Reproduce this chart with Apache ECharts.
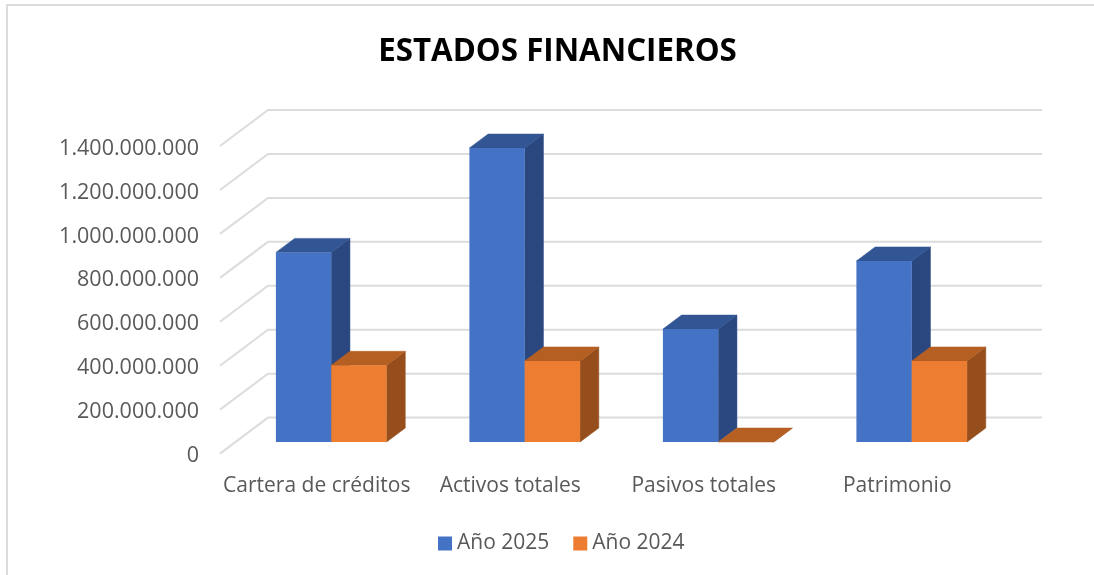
<!DOCTYPE html>
<html>
<head>
<meta charset="utf-8">
<style>html,body{margin:0;padding:0;background:#fff}#c{width:1094px;height:575px}</style>
<script src="https://cdn.jsdelivr.net/npm/echarts@6/dist/echarts.min.js"></script>
</head>
<body>
<div id="c"></div>
<script>
const categories = ['Cartera de créditos', 'Activos totales', 'Pasivos totales', 'Patrimonio'];
const year2025 = [863000000, 1338000000, 514000000, 824000000];
const year2024 = [349000000, 369000000, 0, 369000000];
const yTicks = [0, 200000000, 400000000, 600000000, 800000000, 1000000000, 1200000000, 1400000000];
const FONT = '"Open Sans"';
const WALL = [48, 36], FRONT = [14.5, 11.6], DEPTH = [18.7, 14], BAR_FRAC = 0.286;

function poly(points, fill) {
  return { type: 'polygon', shape: { points }, style: { fill, stroke: fill, lineWidth: 0.5 } };
}
function barRenderer(side, colors) {
  return function (params, api) {
    const band = api.size([1, 0])[0];
    const w = band * BAR_FRAC;
    const t = api.coord([api.value(0), api.value(1)]);
    const b = api.coord([api.value(0), 0]);
    const x0 = t[0] + FRONT[0] + (side < 0 ? -w : 0), x1 = x0 + w;
    const yT = t[1] - FRONT[1], yB = b[1] - FRONT[1];
    const dx = DEPTH[0], dy = DEPTH[1];
    return { type: 'group', children: [
      poly([[x1, yT], [x1 + dx, yT - dy], [x1 + dx, yB - dy], [x1, yB]], colors.side),
      poly([[x0, yT], [x0 + dx, yT - dy], [x1 + dx, yT - dy], [x1, yT]], colors.top),
      { type: 'rect', shape: { x: x0, y: yT, width: w, height: yB - yT }, style: { fill: colors.front } }
    ] };
  };
}
function wallRenderer(params, api) {
  const band = api.size([1, 0])[0];
  const p = api.coord([0, api.value(1)]);
  const x = p[0] - band / 2, y = p[1];
  return { type: 'polyline', shape: { points: [[x, y], [x + WALL[0], y - WALL[1]], [x + WALL[0] + band * categories.length, y - WALL[1]]] },
    style: { fill: 'none', stroke: '#dcdcdc', lineWidth: 2 }, z2: 0 };
}
function fmt(v) { return String(v).replace(/\B(?=(\d{3})+(?!\d))/g, '.'); }

const chart = echarts.init(document.getElementById('c'), null, { renderer: 'canvas' });
chart.setOption({
  animation: false,
  backgroundColor: '#fff',
  graphic: [{ type: 'rect', silent: true, shape: { x: 7, y: 5, width: 1300, height: 800 }, style: { fill: 'none', stroke: '#dcdcdc', lineWidth: 2 } }],
  title: { text: 'ESTADOS FINANCIEROS', left: 552.5, top: 32, textAlign: 'center',
    textStyle: { fontFamily: FONT, fontSize: 31.3, fontWeight: 'bold', color: '#000' } },
  legend: { left: 433, top: 528, itemWidth: 14, itemHeight: 14, itemGap: 24, icon: 'rect',
    data: ['Año 2025', 'Año 2024'],
    textStyle: { fontFamily: FONT, fontSize: 21, color: '#595959', padding: [0, 0, 0, 0] } },
  grid: { left: 220, right: 100, top: 146, bottom: 121.4 },
  xAxis: { type: 'category', data: categories, axisLine: { show: false }, axisTick: { show: false },
    axisLabel: { margin: 22, interval: 0, fontFamily: FONT, fontSize: 21, color: '#595959' } },
  yAxis: { type: 'value', min: 0, max: 1400000000, interval: 200000000, splitLine: { show: false },
    axisLine: { show: false }, axisTick: { show: false },
    axisLabel: { margin: 21, fontFamily: FONT, fontSize: 21.5, color: '#595959', formatter: fmt, verticalAlign: 'top', lineHeight: 5 } },
  series: [
    { type: 'custom', name: 'walls', silent: true, clip: false, z: 1, renderItem: wallRenderer, data: yTicks.map(v => [0, v]), encode: { x: 0, y: 1 } },
    { type: 'custom', name: 'Año 2025', clip: false, z: 2, itemStyle: { color: '#4472C4' },
      renderItem: barRenderer(-1, { front: '#4472C4', top: '#325594', side: '#2A4780' }),
      data: year2025.map((v, i) => [i, v]), encode: { x: 0, y: 1 } },
    { type: 'custom', name: 'Año 2024', clip: false, z: 3, itemStyle: { color: '#ED7D31' },
      renderItem: barRenderer(1, { front: '#ED7D31', top: '#B65F22', side: '#964F1C' }),
      data: year2024.map((v, i) => [i, v]), encode: { x: 0, y: 1 } }
  ]
});
</script>
</body>
</html>
